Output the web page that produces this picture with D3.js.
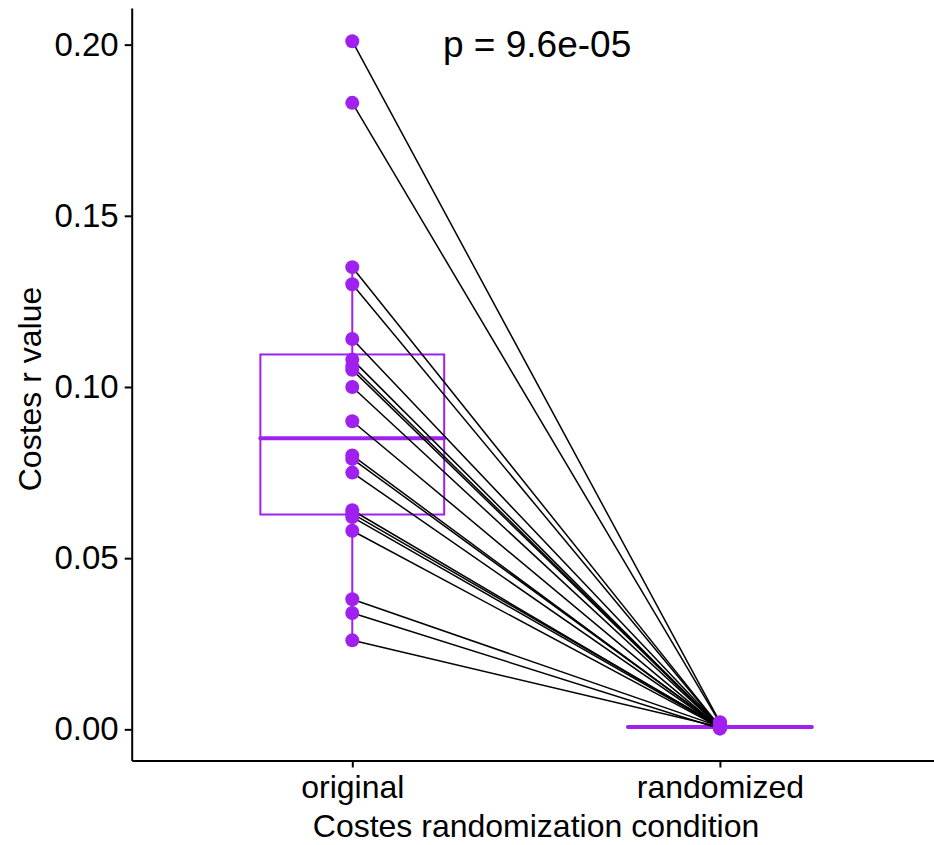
<!DOCTYPE html>
<html>
<head>
<meta charset="utf-8">
<script src="https://cdn.jsdelivr.net/npm/d3@7"></script>
<style>
  body { margin: 0; background: #fff; }
  svg text { font-family: "Liberation Sans", Arial, sans-serif; fill: #000; }
</style>
</head>
<body>
<div id="chart"></div>
<script>
// data
var conditions = ["original", "randomized"];

var originalVals = [0.201, 0.183, 0.135, 0.130, 0.114, 0.108, 0.106, 0.105, 0.100, 0.090,
    0.080, 0.079, 0.075, 0.064, 0.063, 0.062, 0.058, 0.038, 0.034, 0.026];

var randomizedVals = [0.0021, 0.0019, 0.0008, 0.0007, 0.0009, 0.0006, 0.0008, 0.0007, 0.0006, 0.0005,
    0.0007, 0.0008, 0.0006, 0.0007, 0.0009, 0.0006, 0.0005, 0.0008, 0.0002, 0.0007];

var yTicks = [0, 0.05, 0.10, 0.15, 0.20];
var pLabel = "p = 9.6e-05";

var purple = "#A020F0";

var width = 934, height = 845;

var svg = d3.select("#chart")
    .append("svg")
    .attr("width", width)
    .attr("height", height);

var x = d3.scalePoint()
    .domain(conditions)
    .range([131.7, 940.5])
    .padding(0.6);

var y = d3.scaleLinear()
    .domain([-0.0091, 0.2107])
    .range([760.5, 8]);

var boxWidth = x.step() * 0.5;

// boxplots
var groups = [originalVals, randomizedVals];
groups.forEach(function(vals, i) {
    var s = vals.slice().sort(d3.ascending);
    var q1 = d3.quantile(s, 0.25), med = d3.quantile(s, 0.5), q3 = d3.quantile(s, 0.75);
    var iqr = q3 - q1;
    var lo = d3.min(s.filter(function(v) { return v >= q1 - 1.5 * iqr; }));
    var hi = d3.max(s.filter(function(v) { return v <= q3 + 1.5 * iqr; }));
    var cx = x(conditions[i]);
    var g = svg.append("g").attr("class", "box");
    g.append("line")
        .attr("x1", cx).attr("x2", cx)
        .attr("y1", y(q3)).attr("y2", y(hi))
        .attr("stroke", purple).attr("stroke-width", 2);
    g.append("line")
        .attr("x1", cx).attr("x2", cx)
        .attr("y1", y(q1)).attr("y2", y(lo))
        .attr("stroke", purple).attr("stroke-width", 2);
    g.append("rect")
        .attr("x", cx - boxWidth / 2)
        .attr("y", y(q3))
        .attr("width", boxWidth)
        .attr("height", Math.max(0.01, y(q1) - y(q3)))
        .attr("fill", "white")
        .attr("stroke", purple)
        .attr("stroke-width", 2);
    g.append("line")
        .attr("x1", cx - boxWidth / 2).attr("x2", cx + boxWidth / 2)
        .attr("y1", y(med)).attr("y2", y(med))
        .attr("stroke", purple).attr("stroke-width", 4)
        .attr("stroke-linecap", "round");
});

// paired lines
svg.selectAll(".pair")
    .data(d3.range(originalVals.length))
    .enter().append("line")
    .attr("class", "pair")
    .attr("x1", x("original"))
    .attr("y1", function(i) { return y(originalVals[i]); })
    .attr("x2", x("randomized"))
    .attr("y2", function(i) { return y(randomizedVals[i]); })
    .attr("stroke", "black")
    .attr("stroke-width", 1.5);

// points
groups.forEach(function(vals, i) {
    svg.selectAll(".pt" + i)
        .data(vals)
        .enter().append("circle")
        .attr("class", "pt" + i)
        .attr("cx", x(conditions[i]))
        .attr("cy", function(d) { return y(d); })
        .attr("r", 7)
        .attr("fill", purple);
});

// axes
var yAxis = svg.append("g")
    .attr("transform", "translate(131.7,0)")
    .call(d3.axisLeft(y).tickValues(yTicks).tickFormat(d3.format(".2f")).tickSize(7).tickSizeOuter(0).tickPadding(6));

var xAxis = svg.append("g")
    .attr("transform", "translate(0,760.5)")
    .call(d3.axisBottom(x).tickSize(7).tickSizeOuter(0).tickPadding(8));

[yAxis, xAxis].forEach(function(a) {
    a.select(".domain").attr("stroke", "black").attr("stroke-width", 2);
    a.selectAll(".tick line").attr("stroke", "black").attr("stroke-width", 2);
    a.selectAll(".tick text").style("font-size", "32px").attr("fill", "black")
        .style("font-family", "'Liberation Sans', Arial, sans-serif");
});
yAxis.selectAll(".tick text").style("font-size", "33px");

// axis titles
svg.append("text")
    .attr("x", 536)
    .attr("y", 837)
    .style("text-anchor", "middle")
    .style("font-size", "32px")
    .text("Costes randomization condition");

svg.append("text")
    .attr("transform", "translate(41,389) rotate(-90)")
    .style("text-anchor", "middle")
    .style("font-size", "32px")
    .text("Costes r value");

// p value label
svg.append("text")
    .attr("x", 443)
    .attr("y", 57)
    .style("font-size", "37px")
    .text(pLabel);
</script>
</body>
</html>
